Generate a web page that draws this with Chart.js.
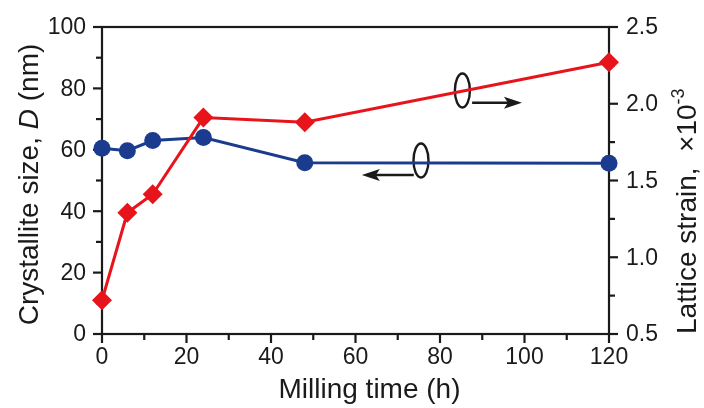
<!DOCTYPE html>
<html><head><meta charset="utf-8">
<script src="https://cdn.jsdelivr.net/npm/chart.js@4/dist/chart.umd.min.js"></script>
<style>html,body{margin:0;padding:0;background:#fff}</style>
</head><body>
<canvas id="c" width="704" height="408"></canvas>
<script>
// ---- data ----
const millingTime = [0, 6, 12, 24, 48, 120];
const crystalliteSize = [60.5, 59.7, 63.0, 64.0, 55.8, 55.6];
const latticeStrain = [0.72, 1.29, 1.41, 1.91, 1.88, 2.27];
const xTicks = [0, 20, 40, 60, 80, 100, 120];
const xMinorTicks = [10, 30, 50, 70, 90, 110];
const leftTicks = [0, 20, 40, 60, 80, 100];
const leftMinorTicks = [10, 30, 50, 70, 90];
const rightTicks = [0.5, 1.0, 1.5, 2.0, 2.5];
const rightMinorTicks = [0.75, 1.25, 1.75, 2.25];
// annotation anchors (data units)
const leftLoop = { x: 75.5, y: 56.5, arrowFrom: 73.8, arrowTo: 61.5, arrowY: 51.8 };
const rightLoop = { x: 85.3, y: 2.086, arrowFrom: 87.6, arrowTo: 99.4, arrowY: 2.007 };

const FONT = '"Liberation Sans", Arial, sans-serif';
const INK = '#1a1a1a';
const BLUE = '#1b3c8e';
const RED = '#e8141c';

function drawSegments(ctx, segs, x, y, angle, align) {
  ctx.save();
  ctx.translate(x, y);
  ctx.rotate(angle);
  ctx.textBaseline = 'alphabetic';
  ctx.textAlign = 'left';
  let total = 0;
  segs.forEach(s => { ctx.font = s.font; s.w = ctx.measureText(s.text).width; total += s.w; });
  let cx = align === 'center' ? -total / 2 : (align === 'right' ? -total : 0);
  segs.forEach(s => { ctx.font = s.font; ctx.fillStyle = INK; ctx.fillText(s.text, cx, s.dy || 0); cx += s.w; });
  ctx.restore();
}

const framePlugin = {
  id: 'frame',
  beforeDatasetsDraw(chart) {
    const ctx = chart.ctx, a = chart.chartArea;
    const sx = chart.scales.x, sy = chart.scales.y, sr = chart.scales.y1;
    ctx.save();
    ctx.strokeStyle = INK; ctx.lineWidth = 2.2; ctx.lineCap = 'square';
    ctx.strokeRect(a.left, a.top, a.right - a.left, a.bottom - a.top);
    ctx.lineCap = 'butt';
    const tick = (x1, y1, x2, y2) => { ctx.beginPath(); ctx.moveTo(x1, y1); ctx.lineTo(x2, y2); ctx.stroke(); };
    xTicks.forEach(v => { const p = sx.getPixelForValue(v); tick(p, a.bottom, p, a.bottom + 9); });
    xMinorTicks.forEach(v => { const p = sx.getPixelForValue(v); tick(p, a.bottom, p, a.bottom + 6); });
    leftTicks.forEach(v => { const p = sy.getPixelForValue(v); tick(a.left, p, a.left - 9, p); });
    leftMinorTicks.forEach(v => { const p = sy.getPixelForValue(v); tick(a.left, p, a.left - 6, p); });
    rightTicks.forEach(v => { const p = sr.getPixelForValue(v); tick(a.right, p, a.right + 9, p); });
    rightMinorTicks.forEach(v => { const p = sr.getPixelForValue(v); tick(a.right, p, a.right + 6, p); });

    // tick labels
    ctx.fillStyle = INK;
    ctx.font = '23px ' + FONT;
    ctx.textBaseline = 'middle';
    ctx.textAlign = 'right';
    leftTicks.forEach(v => ctx.fillText(String(v), a.left - 16, sy.getPixelForValue(v) + 1));
    ctx.textAlign = 'left';
    rightTicks.forEach(v => ctx.fillText(v.toFixed(1), a.right + 17, sr.getPixelForValue(v) + 1));
    ctx.textAlign = 'center';
    ctx.textBaseline = 'top';
    xTicks.forEach(v => ctx.fillText(String(v), sx.getPixelForValue(v), a.bottom + 12));

    // annotations
    ctx.lineWidth = 2.4;
    ctx.strokeStyle = INK;
    const ell = (cx, cy) => { ctx.beginPath(); ctx.ellipse(cx, cy, 7.5, 17, 0, 0, Math.PI * 2); ctx.stroke(); };
    const arrow = (x1, x2, y) => {
      const dir = Math.sign(x2 - x1);
      ctx.beginPath(); ctx.moveTo(x1, y); ctx.lineTo(x2 - dir * 14, y); ctx.stroke();
      ctx.beginPath(); ctx.moveTo(x2, y); ctx.lineTo(x2 - dir * 18, y - 6); ctx.lineTo(x2 - dir * 14, y); ctx.lineTo(x2 - dir * 18, y + 6); ctx.closePath();
      ctx.fillStyle = INK; ctx.fill();
    };
    ell(sx.getPixelForValue(leftLoop.x), sy.getPixelForValue(leftLoop.y));
    arrow(sx.getPixelForValue(leftLoop.arrowFrom), sx.getPixelForValue(leftLoop.arrowTo), sy.getPixelForValue(leftLoop.arrowY));
    ell(sx.getPixelForValue(rightLoop.x), sr.getPixelForValue(rightLoop.y));
    arrow(sx.getPixelForValue(rightLoop.arrowFrom), sx.getPixelForValue(rightLoop.arrowTo), sr.getPixelForValue(rightLoop.arrowY));
    ctx.restore();

    // axis titles
    const f = '28px ' + FONT, fi = 'italic 28px ' + FONT, fs = '18px ' + FONT;
    drawSegments(ctx, [{ text: 'Crystallite size, ', font: f }, { text: 'D', font: fi }, { text: ' (nm)', font: f }],
      38, (a.top + a.bottom) / 2 + 4, -Math.PI / 2, 'center');
    drawSegments(ctx, [{ text: 'Milling time (h)', font: f }], (a.left + a.right) / 2 + 14, 398, 0, 'center');
    drawSegments(ctx, [{ text: 'Lattice strain,  \u00d710', font: f }, { text: '-3', font: fs, dy: -12 }],
      696, a.bottom, -Math.PI / 2, 'left');
  }
};

new Chart(document.getElementById('c'), {
  type: 'line',
  data: {
    datasets: [
      {
        label: 'Lattice strain', yAxisID: 'y1',
        data: millingTime.map((t, i) => ({ x: t, y: latticeStrain[i] })),
        borderColor: RED, backgroundColor: RED, borderWidth: 3,
        pointStyle: 'rectRot', pointRadius: 10, pointHoverRadius: 10, pointBorderWidth: 0,
        tension: 0, clip: false
      },
      {
        label: 'Crystallite size', yAxisID: 'y',
        data: millingTime.map((t, i) => ({ x: t, y: crystalliteSize[i] })),
        borderColor: BLUE, backgroundColor: BLUE, borderWidth: 3,
        pointStyle: 'circle', pointRadius: 8.5, pointHoverRadius: 8.5, pointBorderWidth: 0,
        tension: 0, clip: false
      }
    ]
  },
  options: {
    responsive: false, animation: false, events: [],
    layout: { padding: { top: 27, left: 0, right: 0, bottom: 0 } },
    plugins: { legend: { display: false }, tooltip: { enabled: false } },
    scales: {
      x: { type: 'linear', min: 0, max: 120, ticks: { display: false }, grid: { display: false }, border: { display: false },
           afterFit(s) { s.height = 74; } },
      y: { position: 'left', min: 0, max: 100, ticks: { display: false }, grid: { display: false }, border: { display: false },
           afterFit(s) { s.width = 102; } },
      y1: { position: 'right', min: 0.5, max: 2.5, ticks: { display: false }, grid: { display: false }, border: { display: false },
            afterFit(s) { s.width = 95; } }
    }
  },
  plugins: [framePlugin]
});
</script>
</body></html>
